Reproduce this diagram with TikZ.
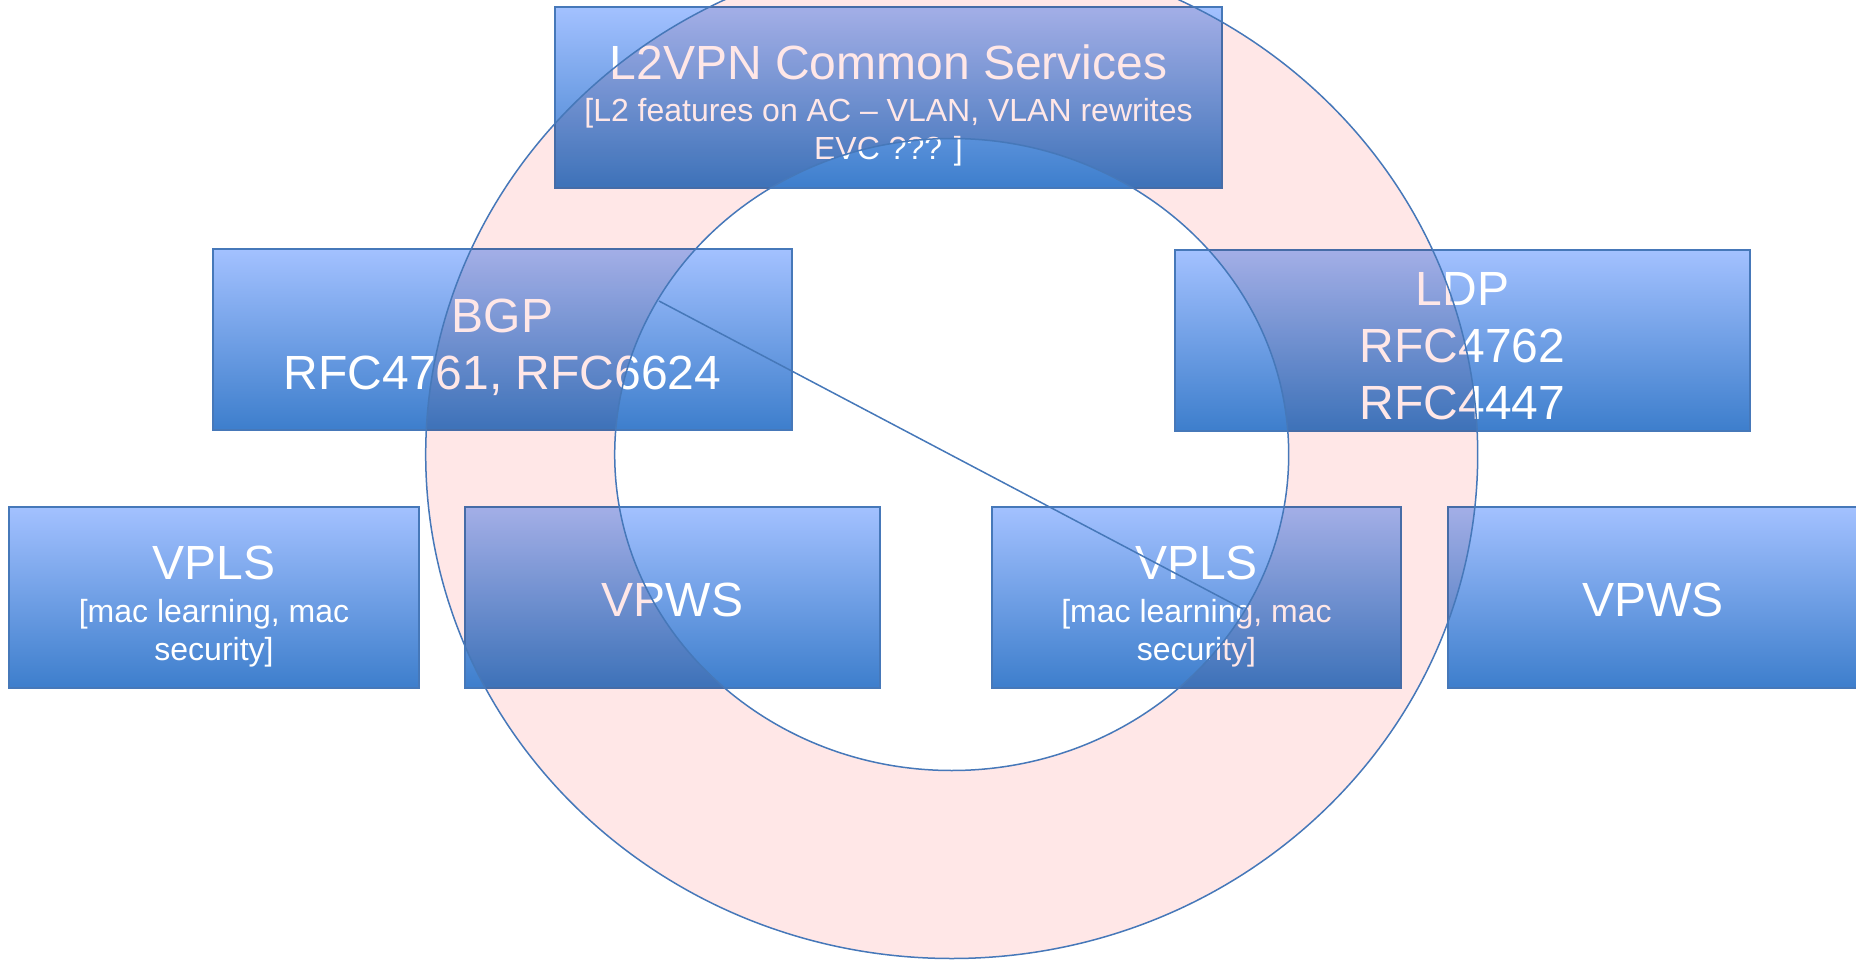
\documentclass[tikz,border=0pt]{standalone}
\usepackage{fontspec}
\setmainfont{Liberation Sans}
\usetikzlibrary{positioning}
\definecolor{boxtop}{RGB}{163,193,255}
\definecolor{boxbot}{RGB}{61,126,204}
\definecolor{rimblue}{RGB}{70,120,185}
\definecolor{ringpink}{RGB}{255,231,231}
\newcommand{\lift}[1]{\rule{0pt}{#1pt}}

\begin{document}
\begin{tikzpicture}[x=1pt,y=-1pt,node distance=44.5pt,
        box/.style={rectangle,draw=rimblue,line width=1.5pt,top color=boxtop,bottom color=boxbot,
            text=white,align=center,minimum height=181pt,inner sep=0pt,
            font=\fontsize{32}{38}\selectfont},
        big/.style={font=\fontsize{48}{57}\selectfont},
        rim/.style={draw=rimblue,line width=1.5pt}]
    \useasboundingbox (0,0) rectangle (1856,960);
    % protocol boxes
    \node[box,minimum width=667pt] (common) at (888.5,97.5)
        {\lift{50.5}{\fontsize{48}{57}\selectfont L2VPN Common Services}\\[4pt]
         {[}L2 features on AC – VLAN, VLAN rewrites\\EVC ??? ]};
    \node[box,big,minimum width=579pt] (bgp) at (502.5,339.5) {\lift{48.4}BGP\\RFC4761, RFC6624};
    \node[box,big,minimum width=575pt] (ldp) at (1462.5,340.5) {\lift{44.4}LDP\\RFC4762\\RFC4447};
    % services
    \node[box,minimum width=410pt] (vpls1) at (214,597.5)
        {\lift{52.4}{\fontsize{48}{57}\selectfont VPLS}\\[5pt]{[}mac learning, mac\\security]};
    \node[box,big,minimum width=415pt] (vpws1) [right=of vpls1] {\lift{39.2}VPWS};
    \node[box,minimum width=409pt] (vpls2) [right=110.5pt of vpws1]
        {\lift{52.4}{\fontsize{48}{57}\selectfont VPLS}\\[5pt]{[}mac learning, mac\\security]};
    \node[box,big,minimum width=410pt] (vpws2) [right=45.5pt of vpls2] {\lift{39.2}VPWS};
    % the "no" sign
    \coordinate (hub) at (951.7,454.5);
    \fill[ringpink,even odd rule,blend mode=multiply]
        (hub) ellipse [x radius=526pt,y radius=504pt]
        (hub) ellipse [x radius=337pt,y radius=316pt];
    \draw[rim] (hub) ellipse [x radius=526pt,y radius=504pt]
        (hub) ellipse [x radius=337pt,y radius=316pt];
    \coordinate (barA) at (659,301);
    \coordinate (barB) at (1243,609);
    \draw[rim] (barA) -- (barB);
\end{tikzpicture}
\end{document}
